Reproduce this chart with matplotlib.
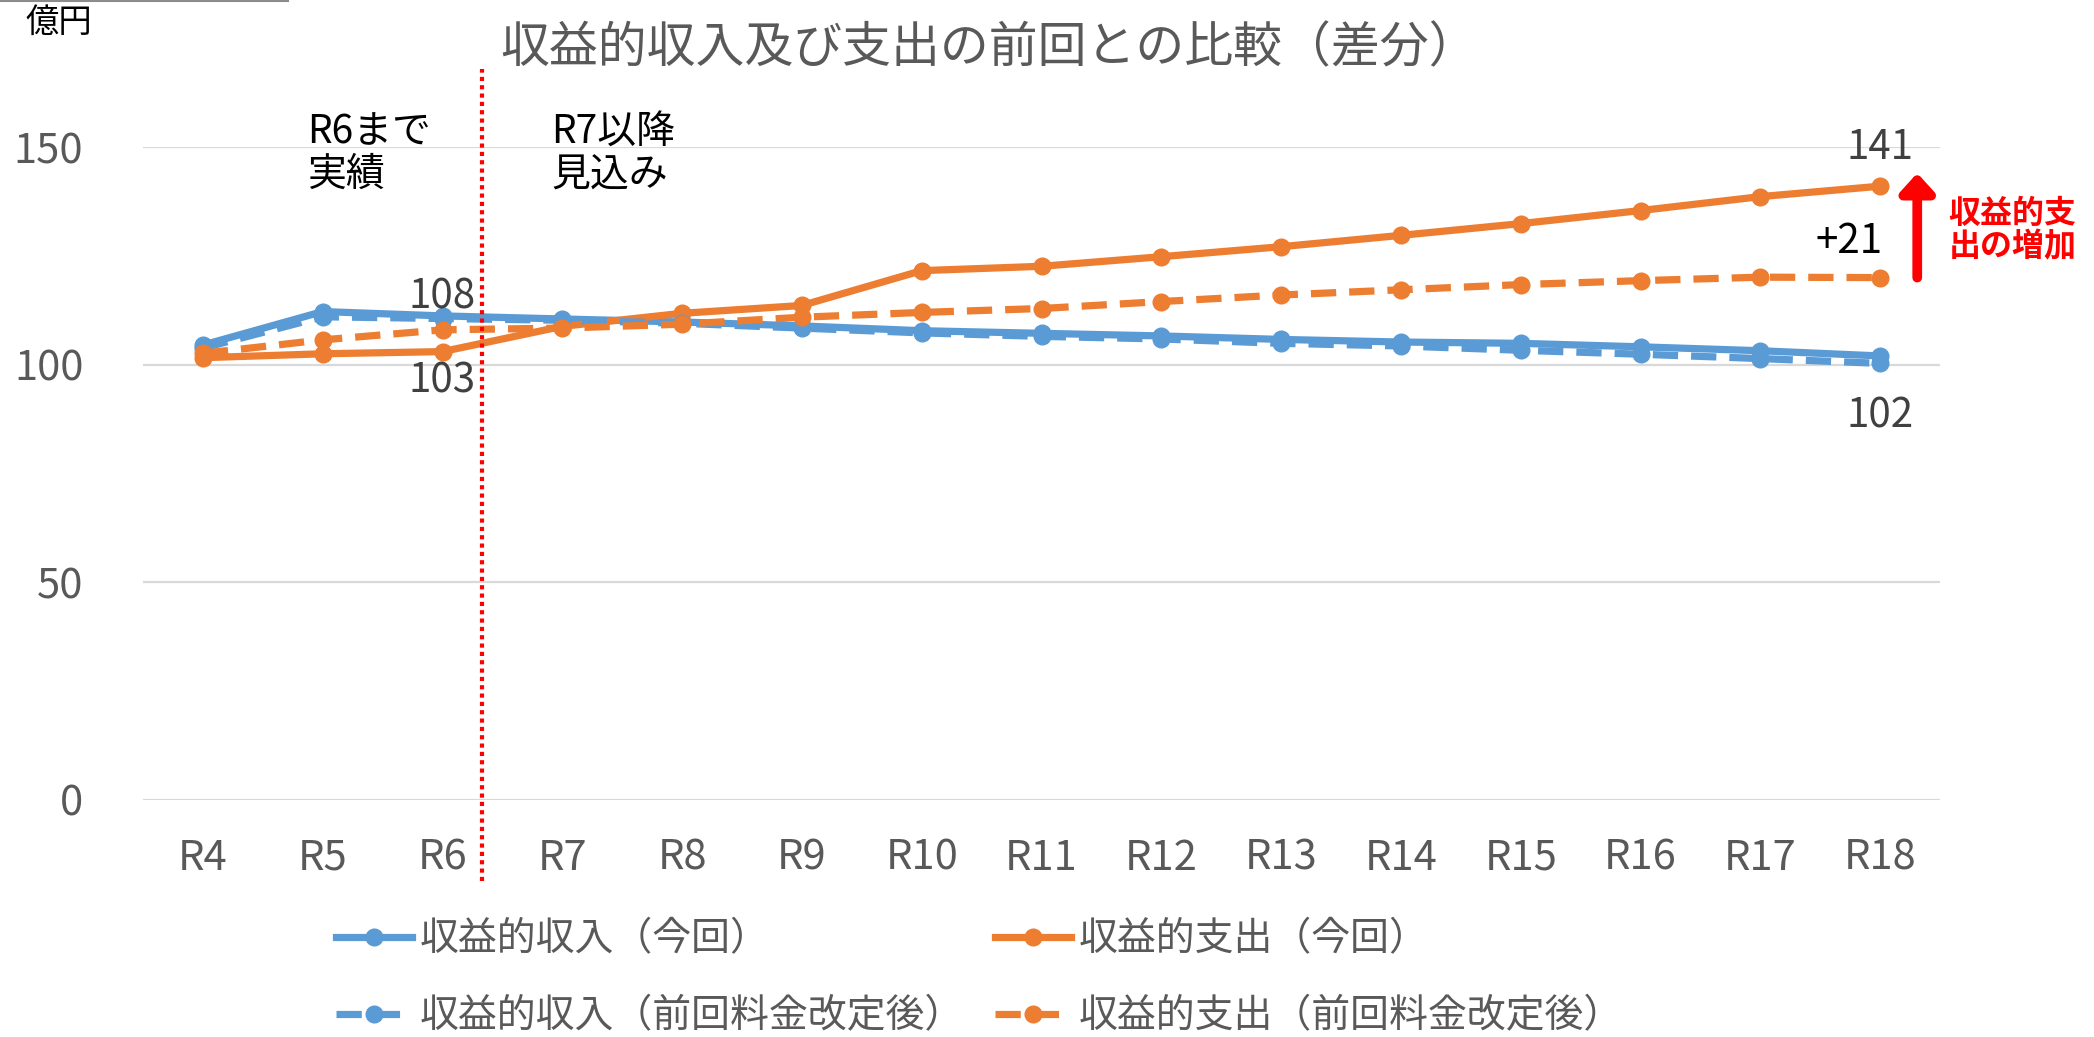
import matplotlib
matplotlib.use("Agg")
import matplotlib.pyplot as plt
from matplotlib.lines import Line2D

plt.rcParams['font.family'] = ['Noto Sans CJK JP', 'DejaVu Sans']

categories = ['R4', 'R5', 'R6', 'R7', 'R8', 'R9', 'R10', 'R11', 'R12',
              'R13', 'R14', 'R15', 'R16', 'R17', 'R18']
# 億円
income_now = [104.5, 112.2, 111.2, 110.5, 109.8, 108.9, 107.8, 107.2, 106.6,
              105.8, 105.2, 104.9, 104.1, 103.2, 102]
expense_now = [101.6, 102.5, 103, 108.8, 111.8, 113.6, 121.6, 122.6, 124.8,
               127.1, 129.7, 132.4, 135.4, 138.6, 141]
income_prev = [103.8, 111.0, 110.6, 110.2, 109.5, 108.4, 107.3, 106.5, 105.9,
               104.9, 104.3, 103.3, 102.4, 101.4, 100.3]
expense_prev = [102.6, 105.7, 108, 108.4, 109.3, 110.9, 112.0, 112.9, 114.5,
                116.0, 117.2, 118.4, 119.3, 120.1, 120]
series_labels = ['収益的収入（今回）', '収益的支出（今回）',
                 '収益的収入（前回料金改定後）', '収益的支出（前回料金改定後）']

blue = '#5B9BD5'
orange = '#ED7D31'
grey = '#595959'
W, H = 2094, 1037

fig = plt.figure(figsize=(W / 100, H / 100), dpi=100)
ax = fig.add_axes([143 / W, 1 - 800 / H, (1940 - 143) / W, (800 - 147) / H])

x = list(range(len(categories)))
lw, ms = 5.2, 12
dash = (0, (3.5, 1.8))
l1, = ax.plot(x, income_now, color=blue, lw=lw, marker='o', ms=ms, zorder=3)
l2, = ax.plot(x, expense_now, color=orange, lw=lw, marker='o', ms=ms, zorder=3)
l3, = ax.plot(x, income_prev, color=blue, lw=lw, ls=dash, marker='o', ms=ms, zorder=4)
l4, = ax.plot(x, expense_prev, color=orange, lw=lw, ls=dash, marker='o', ms=ms, zorder=4)

ax.set_xlim(-0.5, len(categories) - 0.5)
ax.set_ylim(0, 150)
ax.set_yticks([0, 50, 100, 150])
ax.set_xticks(x)
ax.set_xticklabels(categories)
ax.grid(axis='y', color='#D9D9D9', lw=1.6)
ax.set_axisbelow(True)
for s in ax.spines.values():
    s.set_visible(False)
ax.tick_params(axis='y', length=0, pad=43, labelsize=30, labelcolor=grey)
ax.tick_params(axis='x', length=0, pad=27, labelsize=30, labelcolor=grey)

# 実績と見込みの境目
ax.plot([2.33, 2.33], [-0.124, 1.12], transform=ax.get_xaxis_transform(),
        color='#FF0000', lw=3, ls=(0, (1, 1)), clip_on=False, zorder=5)
ax.text(0.87, 148.5, 'R6まで\n実績', fontsize=28, color='black',
        ha='left', va='center', linespacing=1.1)
ax.text(2.91, 148.5, 'R7以降\n見込み', fontsize=28, color='black',
        ha='left', va='center', linespacing=1.1)

# データラベル
lab = dict(textcoords='offset points', ha='center', va='center',
           fontsize=29, color='#404040')
ax.annotate(f'{expense_prev[2]:.0f}', (2, expense_prev[2]), xytext=(0, 24), **lab)
ax.annotate(f'{expense_now[2]:.0f}', (2, expense_now[2]), xytext=(0, -21), **lab)
ax.annotate(f'{expense_now[-1]:.0f}', (14, expense_now[-1]), xytext=(0, 28), **lab)
ax.annotate(f'{income_now[-1]:.0f}', (14, income_now[-1]), xytext=(0, -43), **lab)

diff = expense_now[-1] - expense_prev[-1]
ax.text(13.74, 128.4, f'+{diff:.0f}', fontsize=29, color='black',
        ha='center', va='center')
ax.annotate('', xy=(14.31, 144.0), xytext=(14.31, expense_prev[-1]),
            arrowprops=dict(arrowstyle='-|>,head_width=0.5,head_length=0.55',
                            color='#FF0000', lw=7, mutation_scale=20,
                            shrinkA=0, shrinkB=0),
            annotation_clip=False)
ax.text(14.57, 130.7, '収益的支\n出の増加', fontsize=23, fontweight='bold',
        color='#FF0000', ha='left', va='center', linespacing=1.05)

fig.text(989 / W, 1 - 49 / H, '収益的収入及び支出の前回との比較（差分）',
         fontsize=35.2, color=grey, ha='center', va='center')
fig.text(25 / W, 1 - 22 / H, '億円', fontsize=24, color='black',
         ha='left', va='center')
fig.add_artist(Line2D([0, 288 / W], [1 - 1 / H, 1 - 1 / H], color='#8C8C8C', lw=1.5))

fig.legend([l1, l3, l2, l4],
           [series_labels[0], series_labels[2], series_labels[1], series_labels[3]],
           loc='center left', bbox_to_anchor=(336 / W, 1 - 978 / H), ncol=2,
           frameon=False, fontsize=28, labelcolor=grey, handlelength=1.95,
           handletextpad=0.2, columnspacing=0.8, labelspacing=0.95,
           borderpad=0, borderaxespad=0)

fig.savefig('out.png', dpi=100)
